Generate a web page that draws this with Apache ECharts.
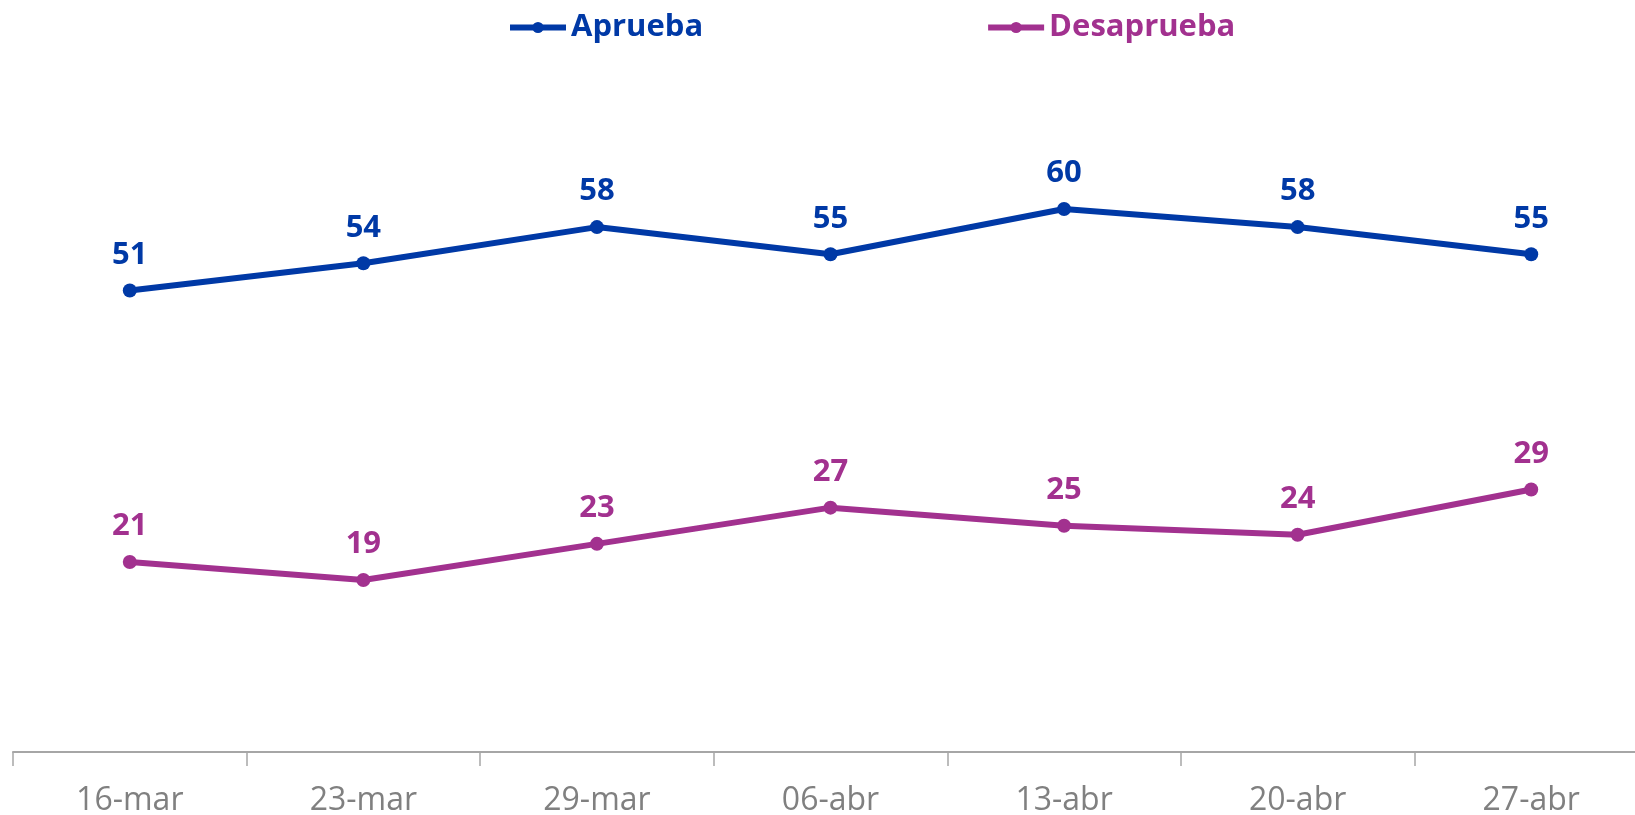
<!DOCTYPE html>
<html>
<head>
<meta charset="utf-8">
<script src="https://cdn.jsdelivr.net/npm/echarts@6/dist/echarts.min.js"></script>
<style>
  html, body { margin: 0; padding: 0; background: #fff; }
  #chart { width: 1635px; height: 815px; }
</style>
</head>
<body>
<div id="chart"></div>
<script>
const categories = ['16-mar', '23-mar', '29-mar', '06-abr', '13-abr', '20-abr', '27-abr']
const aprueba = [51, 54, 58, 55, 60, 58, 55]
const desaprueba = [21, 19, 23, 27, 25, 24, 29]

const blue = '#0039A6'
const purple = '#A2318F'

function lineSeries(name, data, color) {
  return {
    name: name,
    type: 'line',
    data: data,
    symbol: 'circle',
    symbolSize: 14,
    lineStyle: { color: color, width: 6 },
    itemStyle: { color: color },
    label: {
      show: true,
      position: 'top',
      distance: 13,
      color: color,
      fontFamily: 'Open Sans',
      fontWeight: 'bold',
      fontSize: 31
    },
    animation: false
  }
}

const chart = echarts.init(document.getElementById('chart'))
chart.setOption({
  backgroundColor: '#fff',
  legend: {
    left: 502,
    top: 7,
    itemWidth: 56,
    itemHeight: 14,
    itemGap: 282,
    lineStyle: { width: 6 },
    textStyle: { fontFamily: 'Open Sans', fontWeight: 'bold', fontSize: 31 },
    data: [
      { name: 'Aprueba', textStyle: { color: blue } },
      { name: 'Desaprueba', textStyle: { color: purple } }
    ]
  },
  grid: {
    left: 13,
    width: 1635,
    top: 28,
    bottom: 63,
    outerBoundsMode: 'none'
  },
  xAxis: {
    type: 'category',
    data: categories,
    boundaryGap: true,
    axisLine: { lineStyle: { color: '#A6A6A6', width: 2 } },
    axisTick: { show: true, length: 14, lineStyle: { color: '#A6A6A6', width: 1.5 } },
    axisLabel: {
      color: '#808080',
      fontFamily: 'Open Sans',
      fontSize: 32,
      margin: 33,
      interval: 0
    }
  },
  yAxis: {
    type: 'value',
    min: 0,
    max: 80,
    show: false,
    splitLine: { show: false }
  },
  series: [
    lineSeries('Aprueba', aprueba, blue),
    lineSeries('Desaprueba', desaprueba, purple)
  ]
})
</script>
</body>
</html>
